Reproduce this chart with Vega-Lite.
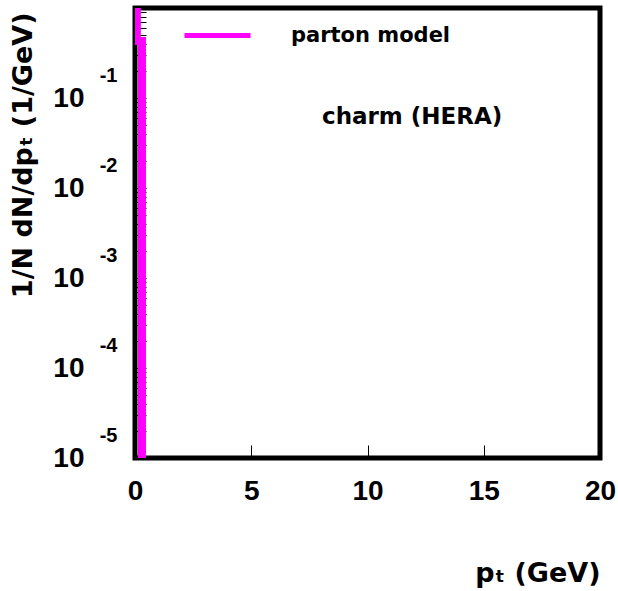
{
  "$schema": "https://vega.github.io/schema/vega-lite/v6.json",
  "width": 465,
  "height": 450,
  "autosize": {"type": "none"},
  "padding": {"left": 135, "top": 8, "right": 18, "bottom": 133},
  "background": "white",
  "config": {
    "view": {"stroke": "black", "strokeWidth": 5},
    "axis": {"domain": false, "grid": false, "labelFlush": false, "labelColor": "black", "titleColor": "black", "tickColor": "black"}
  },
  "title": {
    "text": "charm (HERA)",
    "anchor": "start",
    "frame": "group",
    "orient": "top",
    "dx": 187,
    "dy": 140,
    "offset": 0,
    "baseline": "middle",
    "font": "DejaVu Sans",
    "fontSize": 23,
    "fontWeight": "bold",
    "color": "black"
  },
  "datasets": {
    "curve": [
      {"pt": 0.08, "v": 3, "i": 0, "series": "parton model"},
      {"pt": 0.08, "v": 0.43, "i": 1, "series": "parton model"},
      {"pt": 0.3, "v": 0.43, "i": 2, "series": "parton model"},
      {"pt": 0.3, "v": 1e-7, "i": 3, "series": "parton model"}
    ]
  },
  "resolve": {"axis": {"y": "independent"}},
  "layer": [
    {
      "data": {"name": "curve"},
      "mark": {"type": "line", "clip": true, "strokeWidth": 8},
      "encoding": {
        "x": {
          "field": "pt",
          "type": "quantitative",
          "scale": {"domain": [0, 20], "nice": false, "zero": false},
          "axis": {
            "orient": "bottom",
            "values": [0, 5, 10, 15, 20],
            "tickSize": -13,
            "tickWidth": 1,
            "labelFont": "Liberation Sans",
            "labelFontSize": 28,
            "labelFontWeight": "bold",
            "labelPadding": 32,
            "labelOverlap": false,
            "title": "pₜ (GeV)",
            "titleFont": "DejaVu Sans",
            "titleFontSize": 27,
            "titleFontWeight": "bold",
            "titleX": 465,
            "titleY": 115,
            "titleAlign": "right",
            "titleBaseline": "middle"
          }
        },
        "y": {
          "field": "v",
          "type": "quantitative",
          "scale": {"type": "log", "domain": [0.00001, 1], "nice": false},
          "axis": {
            "orient": "left",
            "values": [0.00001, 0.00002, 0.00003, 0.00004, 0.00005, 0.00006, 0.00007, 0.00008, 0.00009,
                       0.0001, 0.0002, 0.0003, 0.0004, 0.0005, 0.0006, 0.0007, 0.0008, 0.0009,
                       0.001, 0.002, 0.003, 0.004, 0.005, 0.006, 0.007, 0.008, 0.009,
                       0.01, 0.02, 0.03, 0.04, 0.05, 0.06, 0.07, 0.08, 0.09,
                       0.1, 0.2, 0.3, 0.4, 0.5, 0.6, 0.7, 0.8, 0.9, 1],
            "labels": false,
            "tickSize": -11,
            "tickWidth": 1,
            "title": "1/N dN/dpₜ (1/GeV)",
            "titleFont": "DejaVu Sans",
            "titleFontSize": 27,
            "titleFontWeight": "bold",
            "titleAngle": -90,
            "titleX": -112,
            "titleY": 4,
            "titleAlign": "right",
            "titleBaseline": "middle"
          }
        },
        "order": {"field": "i", "type": "quantitative"},
        "color": {
          "field": "series",
          "type": "nominal",
          "scale": {"domain": ["parton model"], "range": ["#ff00ff"]},
          "legend": {
            "orient": "none",
            "legendX": 47,
            "legendY": -8,
            "title": null,
            "padding": 0,
            "symbolType": "stroke",
            "symbolSize": 4356,
            "symbolStrokeWidth": 5,
            "labelOffset": 38,
            "labelFont": "DejaVu Sans",
            "labelFontSize": 21,
            "labelFontWeight": "bold",
            "labelColor": "black"
          }
        }
      }
    },
    {
      "data": {"name": "curve"},
      "mark": {"type": "point", "opacity": 0, "clip": true},
      "encoding": {
        "y": {
          "field": "v",
          "type": "quantitative",
          "axis": {
            "orient": "left",
            "values": [0.00001, 0.0001, 0.001, 0.01, 0.1],
            "labelExpr": "'10'",
            "ticks": false,
            "labelPadding": 51,
            "labelFont": "Liberation Sans",
            "labelFontSize": 28,
            "labelFontWeight": "bold",
            "labelOverlap": false,
            "title": null
          }
        }
      }
    },
    {
      "data": {"name": "curve"},
      "mark": {"type": "point", "opacity": 0, "clip": true},
      "encoding": {
        "y": {
          "field": "v",
          "type": "quantitative",
          "axis": {
            "orient": "left",
            "values": [0.00001, 0.0001, 0.001, 0.01, 0.1],
            "labelExpr": "'' + round(log(datum.value) / LN10)",
            "ticks": false,
            "labelPadding": 18,
            "labelOffset": -23,
            "labelFont": "Liberation Sans",
            "labelFontSize": 20,
            "labelFontWeight": "bold",
            "labelOverlap": false,
            "title": null
          }
        }
      }
    }
  ]
}
